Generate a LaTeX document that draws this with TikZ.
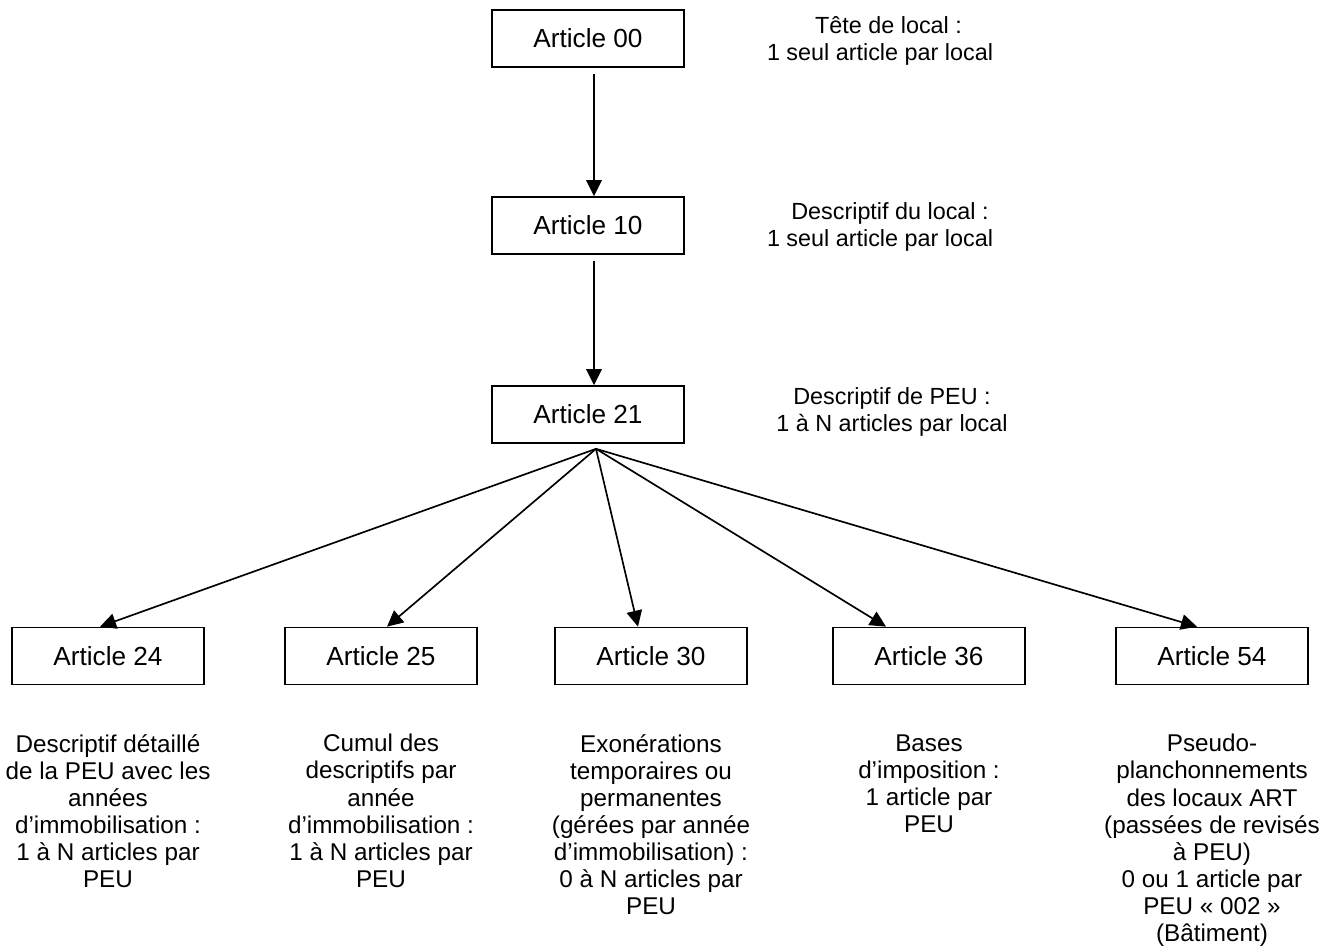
\documentclass[tikz,border=0pt]{standalone}
\usepackage{fontspec}
\setmainfont{Liberation Sans}
\usetikzlibrary{calc,arrows.meta,positioning}
\newcommand{\artfont}{\fontsize{14.9pt}{17pt}\selectfont}
\newcommand{\notefont}{\fontsize{13.8pt}{15.4pt}\selectfont}
\newcommand{\headfont}{\fontsize{13.3pt}{15pt}\selectfont}
\tikzset{
  artbox/.style={draw=black, line width=0.95pt, minimum width=3.84cm,
    minimum height=1.14cm, inner sep=0pt, font=\artfont},
  note/.style={align=center, inner sep=0pt, font=\notefont},
  headnote/.style={note, font=\headfont},
  arr/.style={-{Triangle[length=3.2mm,width=3.1mm]}, line width=0.95pt}
}
\begin{document}
\begin{tikzpicture}[x=0.02cm, y=-0.02cm]
  \useasboundingbox (0,0) rectangle (1336,949);
  % upper column
  \node[artbox] (a00) at (588,38.5) {Article 00};
  \node[artbox] (a10) at (588,225.5) {Article 10};
  \node[artbox] (a21) at (588,414.5) {Article 21};
  \node[headnote] (d00) at (880,41) {\hspace*{0.34cm}Tête de local :\\1 seul article par local};
  \node[headnote] (d10) at (880,227) {\hspace*{0.4cm}Descriptif du local :\\1 seul article par local};
  \node[headnote] (d21) at (892,412) {Descriptif de PEU :\\1 à N articles par local};
  \draw[arr] ($(a00.south)+(6,6)$) -- ($(a10.north)+(6,0)$);
  \draw[arr] ($(a10.south)+(6,6)$) -- ($(a21.north)+(6,0)$);
  % lower row
  \node[artbox] (a24) at (108,656) {Article 24};
  \node[artbox] (a25) at (381,656) {Article 25};
  \node[artbox] (a30) at (651,656) {Article 30};
  \node[artbox] (a36) at (929,656) {Article 36};
  \node[artbox] (a54) at (1212,656) {Article 54};
  \coordinate (hub) at ($(a21.south)+(8,5)$);
  \foreach \t/\dx in {a24/-8, a25/6, a30/-13, a36/-43, a54/-15}
    \draw[arr] (hub) -- ($(\t.north)+(\dx,0)$);
  \node[note, anchor=north] (d24) at (108,734) {Descriptif détaillé\\de la PEU avec les\\années\\d’immobilisation :\\1 à N articles par\\PEU};
  \node[note, anchor=north] (d25) at (381,734) {Cumul des\\descriptifs par\\année\\d’immobilisation :\\1 à N articles par\\PEU};
  \node[note, anchor=north] (d30) at (651,734) {Exonérations\\temporaires ou\\permanentes\\(gérées par année\\d’immobilisation) :\\0 à N articles par\\PEU};
  \node[note, anchor=north] (d36) at (929,734) {Bases\\d’imposition :\\1 article par\\PEU};
  \node[note, anchor=north] (d54) at (1212,734) {Pseudo-\\planchonnements\\des locaux ART\\(passées de revisés\\à PEU)\\0 ou 1 article par\\PEU « 002 »\\(Bâtiment)};
\end{tikzpicture}
\end{document}
